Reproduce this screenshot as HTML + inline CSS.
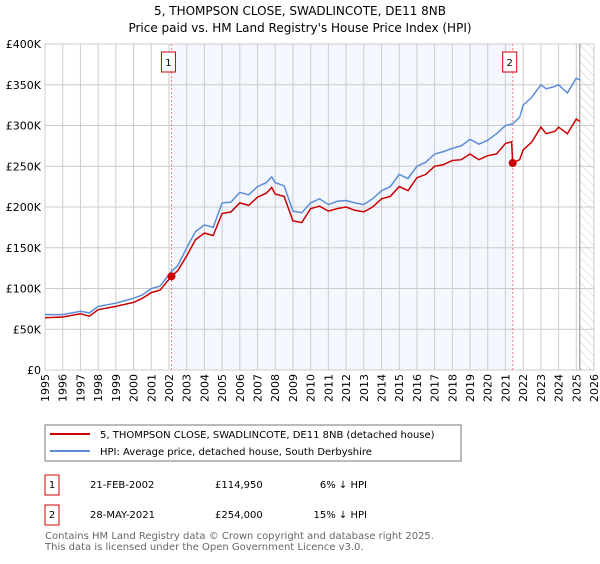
<!DOCTYPE html>
<html><head><meta charset="utf-8"><style>
body{margin:0;background:#fff;font-family:"DejaVu Sans","Liberation Sans",sans-serif;}
svg text{font-family:"DejaVu Sans","Liberation Sans",sans-serif;}
</style></head><body>
<svg id="c" width="600" height="560" xmlns="http://www.w3.org/2000/svg">
<defs><pattern id="hatch" width="6" height="6" patternUnits="userSpaceOnUse" patternTransform="rotate(-45)"><line x1="0" y1="0" x2="0" y2="6" stroke="#ccc" stroke-width="1"/></pattern></defs>
<text x="300" y="15" text-anchor="middle" font-size="12">5, THOMPSON CLOSE, SWADLINCOTE, DE11 8NB</text>
<text x="300" y="32" text-anchor="middle" font-size="12">Price paid vs. HM Land Registry's House Price Index (HPI)</text>
<g id="plot"></g>
<rect x="45" y="425" width="416" height="36" fill="#fff" stroke="#777"/>
<line x1="50" y1="434" x2="90" y2="434" stroke="#cc0000" stroke-width="2"/>
<text x="100" y="438" font-size="10">5, THOMPSON CLOSE, SWADLINCOTE, DE11 8NB (detached house)</text>
<line x1="50" y1="451" x2="90" y2="451" stroke="#5b8dd6" stroke-width="2"/>
<text x="100" y="455" font-size="10">HPI: Average price, detached house, South Derbyshire</text>
<g>
<rect x="45" y="475" width="14" height="20" fill="#fff" stroke="#cc0000"/>
<text x="52" y="488" text-anchor="middle" font-size="10">1</text>
<text x="90" y="488" font-size="10">21-FEB-2002</text>
<text x="215" y="488" font-size="10">£114,950</text>
<text x="367" y="488" text-anchor="end" font-size="10">6% ↓ HPI</text></g>
<g>
<rect x="45" y="505" width="14" height="20" fill="#fff" stroke="#cc0000"/>
<text x="52" y="518" text-anchor="middle" font-size="10">2</text>
<text x="90" y="518" font-size="10">28-MAY-2021</text>
<text x="215" y="518" font-size="10">£254,000</text>
<text x="367" y="518" text-anchor="end" font-size="10">15% ↓ HPI</text></g>
<text x="45" y="539" font-size="10" fill="#666">Contains HM Land Registry data © Crown copyright and database right 2025.</text>
<text x="45" y="550" font-size="10" fill="#666">This data is licensed under the Open Government Licence v3.0.</text>
</svg>
<script>
const hpiT=[1995,1996,1997,1997.5,1998,1999,2000,2000.5,2001,2001.5,2002.14,2002.5,2003,2003.5,2004,2004.5,2005,2005.5,2006,2006.5,2007,2007.5,2007.8,2008,2008.5,2009,2009.5,2010,2010.5,2011,2011.5,2012,2012.5,2013,2013.5,2014,2014.5,2015,2015.5,2016,2016.5,2017,2017.5,2018,2018.5,2019,2019.5,2020,2020.5,2021,2021.41,2021.8,2022,2022.5,2023,2023.3,2023.8,2024,2024.5,2025,2025.2];
const hpiV=[68,68,72,70,78,82,88,92,100,103,121,128,150,170,178,175,205,206,218,215,225,230,237,230,226,195,193,205,210,203,207,208,205,203,210,220,225,240,235,250,255,265,268,272,275,283,277,282,290,300,302,310,325,335,350,345,348,350,340,358,356];
const priceT=[1995,1996,1997,1997.5,1998,1999,2000,2000.5,2001,2001.5,2002.14,2002.5,2003,2003.5,2004,2004.5,2005,2005.5,2006,2006.5,2007,2007.5,2007.8,2008,2008.5,2009,2009.5,2010,2010.5,2011,2011.5,2012,2012.5,2013,2013.5,2014,2014.5,2015,2015.5,2016,2016.5,2017,2017.5,2018,2018.5,2019,2019.5,2020,2020.5,2021,2021.35,2021.41,2021.8,2022,2022.5,2023,2023.3,2023.8,2024,2024.5,2025,2025.2];
const priceV=[64,65,69,66,74,78,83,88,95,98,115,122,140,160,168,165,192,194,205,202,212,217,224,216,213,183,181,198,201,195,198,200,196,194,200,210,213,225,220,236,240,250,252,257,258,265,258,263,265,278,280,254,258,270,280,298,290,293,298,290,308,305];
const saleT=[2002.14,2021.41];
const saleV=[114.95,254];
const yTicks=[0,50,100,150,200,250,300,350,400];
const yLabels=["£0","£50K","£100K","£150K","£200K","£250K","£300K","£350K","£400K"];
const xYears=[1995,1996,1997,1998,1999,2000,2001,2002,2003,2004,2005,2006,2007,2008,2009,2010,2011,2012,2013,2014,2015,2016,2017,2018,2019,2020,2021,2022,2023,2024,2025,2026];
const L=45,R=594,T=44,B=370;
const X=t=>L+(t-1995)/31*(R-L);
const Y=v=>B-v/400*(B-T);
const NS="http://www.w3.org/2000/svg";
const g=document.getElementById('plot');
function mk(tag,a){const e=document.createElementNS(NS,tag);for(const k in a)e.setAttribute(k,a[k]);g.appendChild(e);return e;}
let e=mk('rect',{x:X(saleT[0]),y:T,width:X(saleT[1])-X(saleT[0]),height:B-T,fill:'#f4f7fe'});


e=mk('rect',{x:X(2025.2),y:T,width:R-X(2025.2),height:B-T,fill:'url(#hatch)'});


yTicks.forEach((v,i)=>{
 e=mk('line',{x1:L,x2:R,y1:Y(v),y2:Y(v),stroke:'#ccc'});
 
 
 e=mk('text',{x:L-4,y:Y(v)+4,'text-anchor':'end','font-size':11});
 e.textContent=yLabels[i];
 
 
});
xYears.forEach(yr=>{
 e=mk('line',{x1:X(yr),x2:X(yr),y1:T,y2:B,stroke:'#ccc'});
 
 
 const x=X(yr),y=B+4;
 e=mk('text',{x:x+4,y:y,'text-anchor':'end','font-size':11,transform:`rotate(-90 ${x+4} ${y})`});
 e.textContent=yr;
 
 
});
e=mk('line',{x1:X(2025.2),x2:X(2025.2),y1:T,y2:B,stroke:'#888'});


saleT.forEach((t,i)=>{
 e=mk('line',{x1:X(t),x2:X(t),y1:T,y2:B,stroke:'#f08080','stroke-dasharray':'2,2'});
 
 
 e=mk('rect',{x:X(t)-10,y:52,width:14,height:20,fill:'#fff',stroke:'#cc0000'});
 
 
 e=mk('text',{x:X(t)-3,y:66,'text-anchor':'middle','font-size':10});
 e.textContent=String(i+1);
 
 
});
const pts=(ts,vs)=>ts.map((t,i)=>X(t).toFixed(1)+','+Y(vs[i]).toFixed(1)).join(' ');
e=mk('polyline',{points:pts(hpiT,hpiV),fill:'none',stroke:'#5b8dd6','stroke-width':1.5});


e=mk('polyline',{points:pts(priceT,priceV),fill:'none',stroke:'#cc0000','stroke-width':1.5});


saleT.forEach((t,i)=>{
 e=mk('circle',{cx:X(t),cy:Y(saleV[i]),r:4,fill:'#cc0000'});
 
 
});
</script>
</body></html>
